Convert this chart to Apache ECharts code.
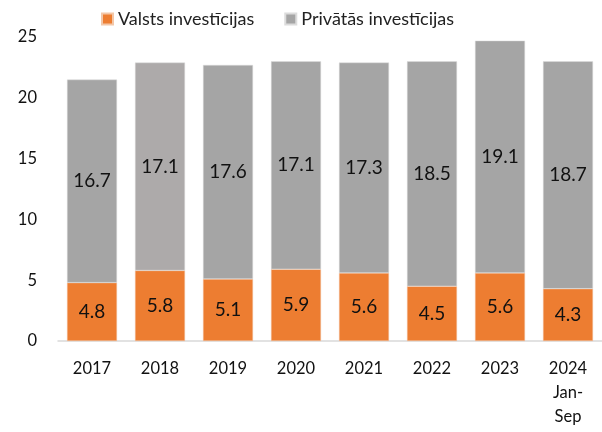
<!DOCTYPE html>
<html>
<head>
<meta charset="utf-8">
<script src="https://cdn.jsdelivr.net/npm/echarts@6/dist/echarts.min.js"></script>
<style>
    html, body { margin: 0; padding: 0; background: #fff; }
    #main { width: 602px; height: 432px; }
</style>
</head>
<body>
<div id="main"></div>
<script>
var years = ["2017", "2018", "2019", "2020", "2021", "2022", "2023", "2024\nJan-\nSep"];
var valsts = [4.8, 5.8, 5.1, 5.9, 5.6, 4.5, 5.6, 4.3];
var privatas = [16.7, 17.1, 17.6, 17.1, 17.3, 18.5, 19.1, 18.7];

var myChart = echarts.init(document.getElementById('main'));
var font = "Lato, 'Open Sans', sans-serif";

// 2018 private bar is a slightly lighter grey in the original
var privData = privatas.map(function (v, i) {
    if (i === 1) {
        return { value: v, itemStyle: { color: "#adaaaa" } };
    }
    return v;
});

var option = {
    animation: false,
    textStyle: { fontFamily: font },
    legend: {
        top: 5,
        left: 96,
        itemWidth: 11,
        itemHeight: 11,
        itemGap: 30,
        icon: "rect",
        textStyle: { fontSize: 18, color: "#222", fontFamily: font },
        data: ["Valsts investīcijas", "Privātās investīcijas"]
    },
    grid: {
        left: 58,
        right: -5,
        top: 37,
        bottom: 91
    },
    xAxis: {
        type: "category",
        data: years,
        axisLine: { lineStyle: { color: "#d9d9d9", width: 1.5 } },
        axisTick: { show: false },
        axisLabel: {
            margin: 16,
            fontSize: 16.5,
            color: "#111",
            lineHeight: 24,
            fontFamily: font
        }
    },
    yAxis: {
        type: "value",
        min: 0,
        max: 25,
        interval: 5,
        splitLine: { show: false },
        axisLine: { show: false },
        axisTick: { show: false },
        axisLabel: {
            margin: 21,
            fontSize: 16.5,
            color: "#111",
            fontFamily: font
        }
    },
    series: [
        {
            name: "Valsts investīcijas",
            type: "bar",
            stack: "total",
            barWidth: 50,
            data: valsts,
            itemStyle: { color: "#ed7d31", borderColor: "#f3c7a8", borderWidth: 0.5 },
            label: {
                show: true,
                position: "inside",
                fontSize: 19,
                color: "#111",
                fontFamily: font,
                formatter: function (p) { return p.value.toFixed(1); }
            }
        },
        {
            name: "Privātās investīcijas",
            type: "bar",
            stack: "total",
            barWidth: 50,
            data: privData,
            itemStyle: { color: "#a5a5a5", borderColor: "#dcdcdc", borderWidth: 0.5 },
            label: {
                show: true,
                position: "inside",
                fontSize: 19,
                color: "#111",
                fontFamily: font,
                formatter: function (p) { return p.value.toFixed(1); }
            }
        }
    ]
};

myChart.setOption(option);
</script>
</body>
</html>
